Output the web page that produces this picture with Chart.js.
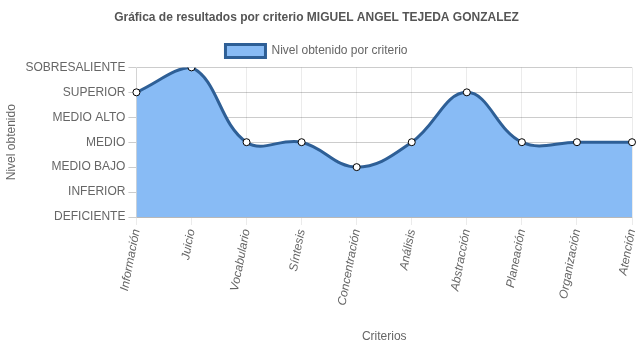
<!DOCTYPE html>
<html><head><meta charset="utf-8">
<script src="https://cdn.jsdelivr.net/npm/chart.js@4/dist/chart.umd.min.js"></script>
<style>html,body{margin:0;padding:0;background:#fff}#wrap{width:637px;height:348px}</style>
</head><body><div id="wrap"><canvas id="c"></canvas></div>
<script>
const categories = ["Información","Juicio","Vocabulario","Síntesis","Concentración","Análisis","Abstracción","Planeación","Organización","Atención"];
const levels = ["DEFICIENTE","INFERIOR","MEDIO BAJO","MEDIO","MEDIO ALTO","SUPERIOR","SOBRESALIENTE"];
const values = [5,6,3,3,2,3,5,3,3,3];
Chart.defaults.font.family = "'Liberation Sans', Arial, sans-serif";
Chart.defaults.color = "#666";
new Chart(document.getElementById('c'), {
  type: 'line',
  data: { labels: categories, datasets: [{
    label: 'Nivel obtenido por criterio',
    data: values,
    fill: 'origin',
    backgroundColor: 'rgba(136,187,245,1)',
    borderColor: '#2e5f96',
    borderWidth: 3,
    tension: 0.4,
    pointBackgroundColor: '#fff',
    pointBorderColor: '#000',
    pointBorderWidth: 1,
    pointRadius: 3.5
  }]},
  options: {
    responsive: true, maintainAspectRatio: false, animation: false,
    layout: { padding: { right: 4, top: 0 } },
    plugins: {
      title: { display: true, text: 'Gráfica de resultados por criterio MIGUEL ANGEL TEJEDA GONZALEZ', font: { size: 12, weight: 'bold' }, color: '#555', padding: { top: 10, bottom: 10 } },
      legend: { labels: { font: { size: 12 }, boxWidth: 40, boxHeight: 13 } }
    },
    scales: {
      x: {
        grid: { color: 'rgba(0,0,0,0.08)', tickLength: 8 },
        ticks: { maxRotation: 79, minRotation: 79, font: { size: 12, style: 'italic' } },
        title: { display: true, text: 'Criterios', font: { size: 12 } },
        afterFit: s => { s.height = 131; s.paddingRight = 4; }
      },
      y: {
        min: 0, max: 6,
        grid: { color: 'rgba(0,0,0,0.2)', tickLength: 8 },
        ticks: { stepSize: 1, font: { size: 12 }, callback: v => levels[v] },
        title: { display: true, text: 'Nivel obtenido', font: { size: 12 } }
      }
    }
  }
});
</script></body></html>
